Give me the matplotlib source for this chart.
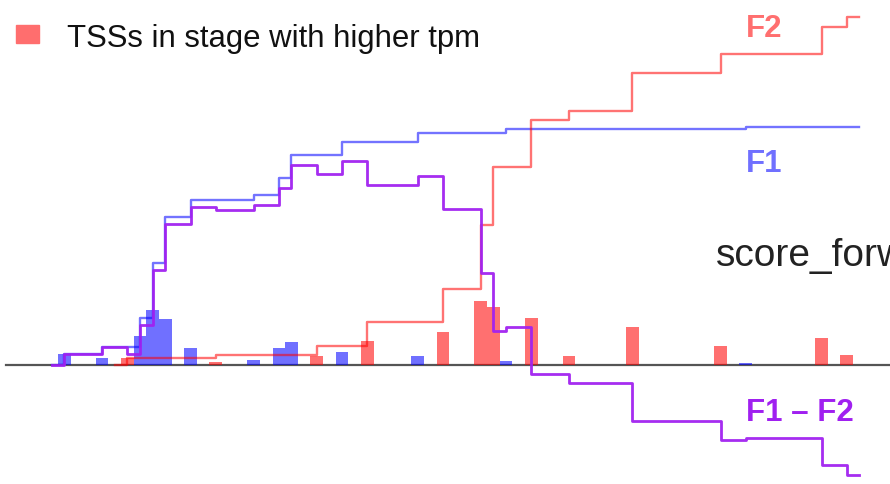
import numpy as np
import matplotlib
matplotlib.use("Agg")
import matplotlib.pyplot as plt
from matplotlib.patches import Rectangle

# ---------------- data (bin index -> height) ----------------
bins_f1 = [0, 3, 6, 7, 8, 10, 15, 17, 18, 22, 28, 35, 54]
vals_f1 = [11, 7, 29, 55, 46, 17, 5, 17, 23, 13, 9, 4, 2]
bins_f2 = [5, 12, 20, 24, 30, 33, 34, 37, 40, 45, 52, 60, 62]
vals_f2 = [7, 3, 9, 24, 33, 64, 58, 47, 9, 38, 19, 27, 10]

legend_label = "TSSs in stage with higher tpm"
axis_label = "score_forw"
label_f1 = "F1"
label_f2 = "F2"
label_diff = "F1 \u2013 F2"

# ---------------- style ----------------
W, H, DPI = 890, 485, 100
BLUE_BAR = (0.0, 0.0, 1.0, 0.56)
RED_BAR = (1.0, 0.0, 0.0, 0.56)
BLUE_LINE = (0.0, 0.0, 1.0, 0.55)
RED_LINE = (1.0, 0.0, 0.0, 0.55)
PURPLE = (0.63, 0.13, 0.94, 0.95)
FONT = ["Liberation Sans", "DejaVu Sans"]

plt.rcParams["font.family"] = FONT

fig = plt.figure(figsize=(W / DPI, H / DPI), dpi=DPI)
ax = fig.add_axes([0, 0, 1, 1])
x0_px, bw_px, base_px = 58.0, 12.62, 366.0
ax.set_xlim(-x0_px / bw_px, (W - x0_px) / bw_px)
ax.set_ylim(-(H - base_px), base_px)
ax.axis("off")

# bars
ax.bar(bins_f1, vals_f1, width=1.0, align="edge", color=BLUE_BAR, linewidth=0, zorder=2)
ax.bar(bins_f2, vals_f2, width=1.0, align="edge", color=RED_BAR, linewidth=0, zorder=2)

# baseline
ax.axhline(0, xmin=6 / W, xmax=1, color="#555555", linewidth=1.6, zorder=1)

# cumulative step lines
nbins = max(bins_f1 + bins_f2) + 1
f1 = np.zeros(nbins)
f2 = np.zeros(nbins)
f1[bins_f1] = vals_f1
f2[bins_f2] = vals_f2
c1 = np.cumsum(f1)
c2 = np.cumsum(f2)
end_x = nbins + 0.5


def step_line(idx, cum, **kw):
    idx = sorted(idx)
    xs = [idx[0] - 0.5] + [i + 0.5 for i in idx] + [end_x]
    ys = [0.0] + [cum[i] for i in idx] + [cum[idx[-1]]]
    ax.step(xs, ys, where="post", **kw)


step_line(bins_f1, c1, color=BLUE_LINE, linewidth=1.7, zorder=3)
step_line(bins_f2, c2, color=RED_LINE, linewidth=1.7, zorder=4)
step_line(sorted(set(bins_f1) | set(bins_f2)), c1 - c2, color=PURPLE, linewidth=2.0, zorder=5)

# ---------------- texts ----------------
def ftext(x, y, s, **kw):
    fig.text(x / W, 1 - y / H, s, ha="left", va="baseline", **kw)


ftext(746, 37, label_f2, color="#ff6f6f", fontsize=22.5, fontweight="bold")
ftext(746, 172, label_f1, color="#7070ff", fontsize=22.5, fontweight="bold")
ftext(746, 421, label_diff, color="#a020f0", fontsize=22.5, fontweight="bold")
ftext(716, 266, axis_label, color="#222222", fontsize=28)
ftext(67, 47, legend_label, color="#111111", fontsize=22.4)
fig.patches.append(Rectangle((16 / W, 1 - 44 / H), 23 / W, 18 / H,
                             transform=fig.transFigure, color="#ff6e6e"))

fig.savefig("out.png", dpi=DPI)
